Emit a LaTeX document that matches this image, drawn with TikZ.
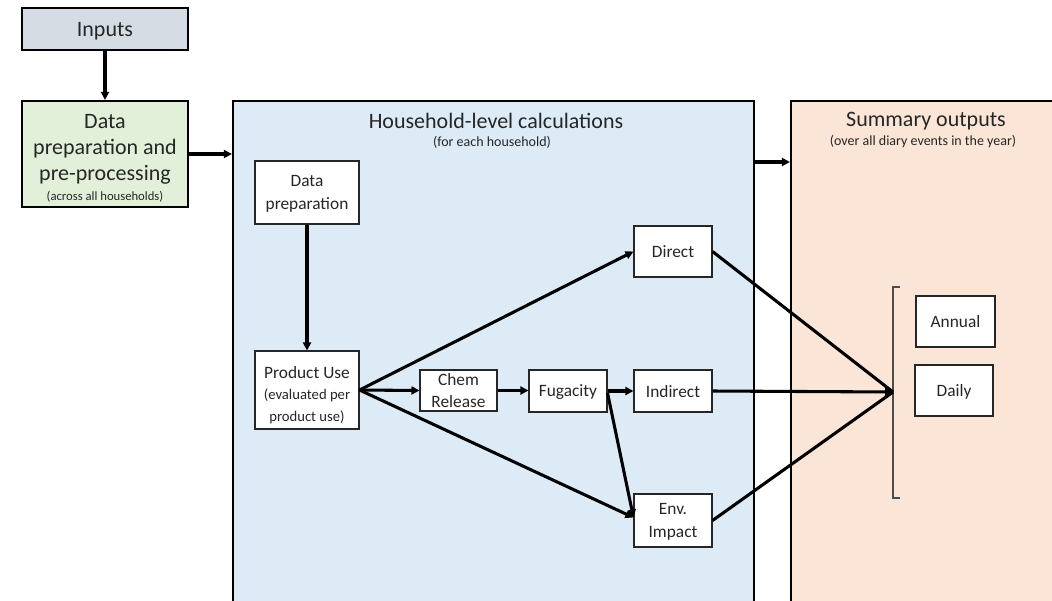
\documentclass[tikz,border=0pt]{standalone}
\usepackage{fontspec}
\setmainfont{Carlito}
\usetikzlibrary{arrows.meta,calc}
\newdimen\px \px=0.75pt
\definecolor{inpfill}{HTML}{D6DCE4}
\definecolor{prepfill}{HTML}{E2EFD9}
\definecolor{hhfill}{HTML}{DDEBF7}
\definecolor{sumfill}{HTML}{FBE5D6}
\definecolor{txt}{HTML}{262626}
\tikzset{
  bigbox/.style={draw=black, line width=1.6pt, inner sep=0pt, text=txt},
  innerbox/.style={draw=black!85, line width=0.8pt, fill=white, inner sep=0pt, align=center, text=txt, text depth=0pt, font=\fontsize{13}{17}\selectfont},
  flow/.style={line width=2.3pt, -{Triangle[length=6pt,width=6pt]}},
  plainflow/.style={line width=2.3pt},
  titletxt/.style={text=txt, font=\fontsize{16.5}{20}\selectfont},
  subtxt/.style={text=txt, font=\fontsize{10.5}{12}\selectfont},
}
\begin{document}
\begin{tikzpicture}[x=0.75pt,y=-0.75pt]
\useasboundingbox (0,0) rectangle (1052,600);
\clip (0,0) rectangle (1052,600);
\fill[white] (0,0) rectangle (1052,600);
% big boxes
\node[bigbox, fill=inpfill, minimum width=166\px, minimum height=42\px, text depth=0pt, font=\fontsize{16.5}{20}\selectfont] (inputs) at (105,29) {Inputs};
\node[bigbox, fill=prepfill, minimum width=166\px, minimum height=106\px] (prep) at (105,154) {};
\node[titletxt, align=center, font=\fontsize{16.5}{19.5}\selectfont] (preptxt) at (105,149.5) {Data\\preparation and\\pre-processing};
\node[subtxt, font=\fontsize{9.5}{11}\selectfont] (prepsub) at (105,197) {(across all households)};
\node[bigbox, fill=hhfill, minimum width=521\px, minimum height=530\px] (hh) at (493.5,366) {};
\node[bigbox, fill=sumfill, minimum width=300\px, minimum height=530\px] (sum) at (941,366) {};
\node[titletxt] (hhtitle) at (496,121) {Household-level calculations};
\node[subtxt] (hhsub) at (492,142) {(for each household)};
\node[titletxt] (sumtitle) at (926,121) {Summary outputs};
\node[subtxt] (sumsub) at (923,142) {(over all diary events in the year)};
% inner nodes
\node[innerbox, minimum width=104\px, minimum height=63\px] (dprep) at (307,192.5) {Data\\preparation};
\node[innerbox, minimum width=104\px, minimum height=78\px] (pu) at (307,390) {};
\node[align=center, text=txt, font=\fontsize{13}{16}\selectfont] (putxt) at (307,395) {Product Use\\{\fontsize{11}{15}\selectfont (evaluated per}\\{\fontsize{11}{15}\selectfont product use)}};
\node[innerbox, minimum width=77\px, minimum height=41\px] (chem) at (458.5,390.5) {Chem\\Release};
\node[innerbox, minimum width=78\px, minimum height=42\px] (fug) at (568,391) {Fugacity};
\node[innerbox, minimum width=78\px, minimum height=51\px] (direct) at (673,251.5) {Direct};
\node[innerbox, minimum width=78\px, minimum height=42\px] (indirect) at (673,391) {Indirect};
\node[innerbox, minimum width=78\px, minimum height=53\px] (env) at (673,520.5) {Env.\\Impact};
\node[innerbox, minimum width=79\px, minimum height=51\px] (annual) at (955.5,321.5) {Annual};
\node[innerbox, minimum width=78\px, minimum height=51\px] (daily) at (954,390.5) {Daily};
% bracket
\coordinate (conv) at (893,392);
\coordinate (brtop) at (893,287);
\coordinate (brbot) at (893,498);
\draw[line width=1.2pt, draw=black!70] ($(brtop)+(7,0)$) -- (brtop) -- (brbot) -- ($(brbot)+(7,0)$);
% connectors
\draw[flow] (inputs) -- (prep);
\draw[flow] (prep.east) -- (prep.east -| hh.west);
\draw[flow] (754,162) coordinate (hhout) -- (hhout -| sum.west);
\draw[flow] (dprep) -- (pu);
\draw[flow] (pu.east) -- (chem.west);
\draw[flow] (chem.east) -- (chem.east -| fug.west);
\draw[flow] (fug.east) -- (fug.east -| indirect.west);
\draw[flow] (pu.east) -- (direct.west);
\draw[flow] (pu.east) -- ($(env.west)+(0,-3)$);
\draw[flow] ($(fug.east)+(0,2)$) -- ($(env.west)+(0,-3)$);
\draw[plainflow] (direct.east) -- (conv);
\draw[plainflow] (env.east) -- (conv);
\draw[flow] (indirect.east) -- (conv);
\end{tikzpicture}
\end{document}
